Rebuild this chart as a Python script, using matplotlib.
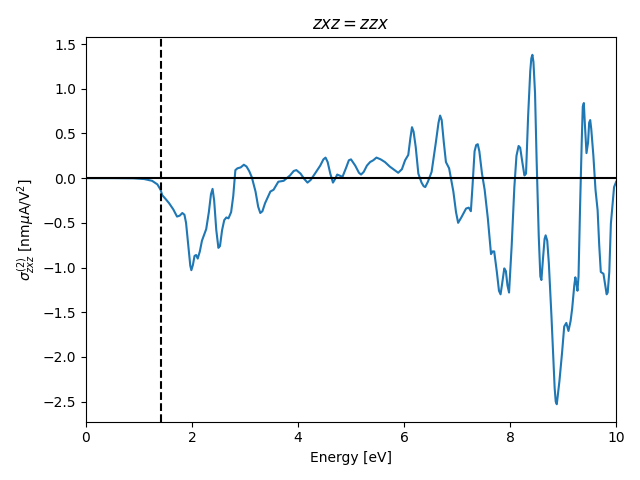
import matplotlib.pyplot as plt
import numpy as np

# energy [eV] and sigma values
energy = [0.0, 0.5, 0.9, 1.1, 1.25, 1.35, 1.41, 1.44, 1.50, 1.57, 1.65, 1.72, 1.77, 1.82,
          1.86, 1.89, 1.94, 1.97, 1.99, 2.02, 2.05, 2.08, 2.11, 2.15, 2.19, 2.27, 2.32,
          2.36, 2.39, 2.42, 2.46, 2.50, 2.53, 2.57, 2.61, 2.65, 2.69, 2.74, 2.78, 2.82,
          2.86, 2.92, 2.98, 3.03, 3.08, 3.13, 3.20, 3.25, 3.29, 3.33, 3.38, 3.48, 3.54,
          3.63, 3.73, 3.85, 3.92, 3.97, 4.05, 4.12, 4.18, 4.24, 4.32, 4.42, 4.48, 4.52,
          4.56, 4.61, 4.66, 4.70, 4.74, 4.84, 4.91, 4.96, 5.00, 5.08, 5.15, 5.19, 5.24,
          5.30, 5.36, 5.42, 5.48, 5.56, 5.64, 5.73, 5.82, 5.89, 5.96, 6.02, 6.08, 6.12,
          6.15, 6.18, 6.22, 6.27, 6.33, 6.37, 6.40, 6.45, 6.52, 6.60, 6.65, 6.68, 6.71,
          6.75, 6.79, 6.85, 6.93, 6.98, 7.02, 7.08, 7.17, 7.22, 7.26, 7.29, 7.33, 7.36,
          7.39, 7.42, 7.47, 7.52, 7.58, 7.64, 7.67, 7.70, 7.75, 7.79, 7.82, 7.85, 7.89,
          7.92, 7.95, 7.98, 8.03, 8.08, 8.12, 8.16, 8.19, 8.23, 8.27, 8.30, 8.34, 8.38,
          8.40, 8.42, 8.44, 8.47, 8.50, 8.54, 8.57, 8.59, 8.62, 8.65, 8.67, 8.70, 8.73,
          8.78, 8.81, 8.84, 8.86, 8.88, 8.93, 8.98, 9.02, 9.06, 9.10, 9.14, 9.17, 9.21,
          9.23, 9.25, 9.27, 9.29, 9.32, 9.35, 9.37, 9.39, 9.41, 9.44, 9.47, 9.49, 9.51,
          9.53, 9.57, 9.61, 9.65, 9.68, 9.71, 9.76, 9.80, 9.82, 9.84, 9.87, 9.90, 9.96,
          10.0]
sigma = [0.0, 0.0, -0.002, -0.01, -0.03, -0.07, -0.13, -0.19, -0.23, -0.28, -0.35, -0.43,
         -0.42, -0.39, -0.41, -0.50, -0.80, -0.98, -1.03, -0.97, -0.87, -0.86, -0.90, -0.82,
         -0.70, -0.57, -0.38, -0.18, -0.12, -0.25, -0.58, -0.78, -0.76, -0.58, -0.47, -0.44,
         -0.45, -0.38, -0.20, 0.09, 0.11, 0.12, 0.15, 0.13, 0.08, 0.01, -0.15, -0.32, -0.39,
         -0.37, -0.28, -0.15, -0.13, -0.04, -0.03, 0.03, 0.08, 0.09, 0.05, -0.01, -0.05,
         -0.02, 0.05, 0.14, 0.21, 0.23, 0.18, 0.05, -0.05, -0.01, 0.04, 0.015, 0.12, 0.20,
         0.21, 0.14, 0.06, 0.04, 0.07, 0.14, 0.18, 0.20, 0.23, 0.21, 0.18, 0.13, 0.09, 0.06,
         0.10, 0.20, 0.26, 0.45, 0.57, 0.52, 0.35, 0.05, -0.05, -0.09, -0.10, -0.04, 0.07,
         0.40, 0.62, 0.70, 0.65, 0.40, 0.18, 0.11, -0.15, -0.38, -0.50, -0.44, -0.34, -0.33,
         -0.37, -0.10, 0.30, 0.37, 0.38, 0.30, 0.05, -0.13, -0.45, -0.85, -0.82, -0.82,
         -1.05, -1.26, -1.30, -1.18, -1.01, -1.04, -1.20, -1.28, -0.75, -0.10, 0.25, 0.36,
         0.34, 0.18, 0.03, 0.05, 0.70, 1.20, 1.34, 1.38, 1.30, 0.95, 0.20, -0.65, -1.10,
         -1.14, -0.90, -0.68, -0.64, -0.70, -0.95, -1.55, -1.95, -2.35, -2.50, -2.53, -2.27,
         -1.95, -1.66, -1.62, -1.71, -1.60, -1.46, -1.20, -1.11, -1.18, -1.26, -1.10, -0.30,
         0.40, 0.80, 0.84, 0.60, 0.28, 0.40, 0.62, 0.65, 0.55, 0.25, -0.13, -0.36, -0.75,
         -1.05, -1.07, -1.22, -1.30, -1.28, -1.05, -0.51, -0.10, -0.04]
gap = 1.41

fig, ax = plt.subplots(figsize=(6.4, 4.8), dpi=100)
ax.plot(energy, sigma, color='tab:blue')
ax.axhline(0, color='black')
ax.axvline(gap, color='black', linestyle='--')
ax.set_xlim(0, 10)
ax.set_xlabel('Energy [eV]')
ax.set_ylabel(r'$\sigma^{(2)}_{zxz}$ [nm$\mu$A/V$^2$]')
ax.set_title(r'$zxz = zzx$')

plt.tight_layout()
plt.savefig('out.png')
